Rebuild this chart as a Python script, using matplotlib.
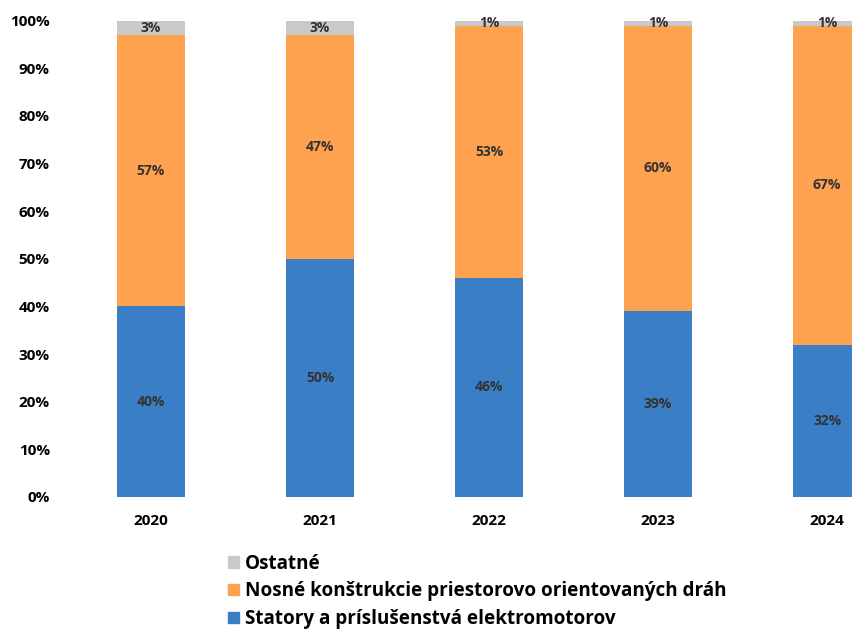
import numpy as np
import matplotlib.pyplot as plt
from matplotlib.patches import Patch

years = ['2020', '2021', '2022', '2023', '2024']
statory = [40, 50, 46, 39, 32]
nosne = [57, 47, 53, 60, 67]
ostatne = [3, 3, 1, 1, 1]

names = ['Statory a príslušenstvá elektromotorov',
         'Nosné konštrukcie priestorovo orientovaných dráh',
         'Ostatné']
colors = ['#3a7fc6', '#ffa24f', '#c9c9c9']

plt.rcParams['font.family'] = ['Open Sans', 'DejaVu Sans']

fig = plt.figure(figsize=(8.52, 6.29), dpi=100)
# axes runs past the right edge, the last bar is cut off
ax = fig.add_axes([0.078, 0.21, 0.992, 0.757])

x = np.arange(len(years))
series = [statory, nosne, ostatne]
bottom = np.zeros(len(years))
for vals, col in zip(series, colors):
    vals = np.array(vals, dtype=float)
    ax.bar(x, vals, width=0.4, bottom=bottom, color=col)
    for xi, b, v in zip(x, bottom, vals):
        ax.text(xi, b + v / 2, f'{int(v)}%', ha='center', va='center',
                fontsize=10, fontweight='bold', color='#333333')
    bottom += vals

ax.set_xlim(-0.5, 4.5)
ax.set_ylim(0, 100)
ax.set_yticks(np.arange(0, 101, 10))
ax.set_yticklabels([f'{t}%' for t in range(0, 101, 10)])
ax.set_xticks(x)
ax.set_xticklabels(years)
ax.tick_params(length=0, labelsize=11)
ax.tick_params(axis='y', pad=12)
ax.tick_params(axis='x', pad=12)
for lab in ax.get_xticklabels() + ax.get_yticklabels():
    lab.set_fontweight('bold')
for s in ax.spines.values():
    s.set_visible(False)

handles = [Patch(color=c) for c in colors][::-1]
leg = fig.legend(handles, names[::-1], loc='upper left',
                 bbox_to_anchor=(0.268, 0.12), frameon=False,
                 handlelength=0.55, handleheight=0.55, handletextpad=0.35,
                 labelspacing=0.42, borderpad=0, borderaxespad=0,
                 prop={'size': 13.6, 'weight': 'bold'})

fig.savefig('out.png', dpi=100)
